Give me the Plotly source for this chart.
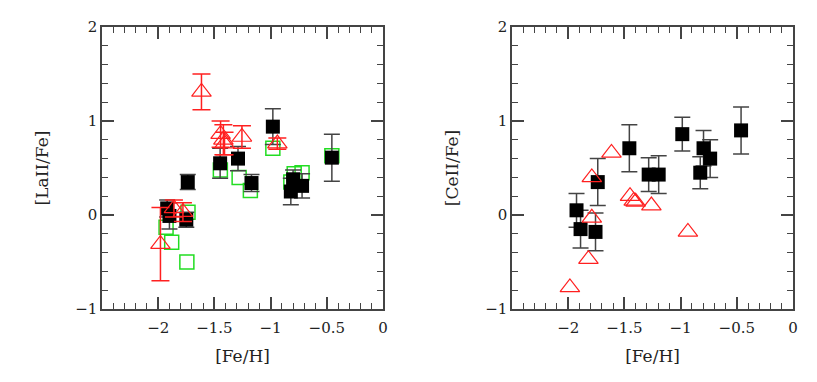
import plotly.graph_objects as go
from plotly.subplots import make_subplots

# left panel: [LaII/Fe]
la_sq_x = [-1.92, -1.90, -1.75, -1.737, -1.449, -1.29, -1.17, -0.98, -0.82, -0.80, -0.72, -0.455]
la_sq_y = [0.07, -0.01, -0.05, 0.35, 0.55, 0.60, 0.34, 0.94, 0.25, 0.38, 0.31, 0.61]
la_sq_err = [0.09, 0.14, 0.08, 0.08, 0.16, 0.13, 0.09, 0.19, 0.14, 0.10, 0.13, 0.25]

la_tri_x = [-1.98, -1.86, -1.78, -1.615, -1.445, -1.42, -1.41, -1.255, -0.94]
la_tri_y = [-0.31, 0.07, 0.03, 1.31, 0.86, 0.80, 0.76, 0.83, 0.76]
la_tri_err = [0.39, 0.09, 0.10, 0.19, 0.14, 0.16, 0.12, 0.12, 0.06]

la_grn_x = [-1.93, -1.88, -1.745, -1.735, -1.447, -1.28, -1.18, -0.98, -0.82, -0.79, -0.72, -0.455]
la_grn_y = [-0.13, -0.29, -0.50, 0.03, 0.48, 0.40, 0.26, 0.71, 0.35, 0.44, 0.45, 0.63]

# right panel: [CeII/Fe]
ce_sq_x = [-1.926, -1.89, -1.757, -1.737, -1.456, -1.284, -1.195, -0.985, -0.825, -0.796, -0.737, -0.462]
ce_sq_y = [0.05, -0.15, -0.18, 0.35, 0.71, 0.43, 0.43, 0.86, 0.45, 0.71, 0.60, 0.90]
ce_sq_err = [0.18, 0.20, 0.20, 0.25, 0.25, 0.18, 0.20, 0.18, 0.17, 0.19, 0.20, 0.25]

ce_tri_x = [-1.985, -1.82, -1.79, -1.79, -1.615, -1.45, -1.417, -1.40, -1.26, -0.935]
ce_tri_y = [-0.77, -0.47, -0.03, 0.40, 0.66, 0.20, 0.15, 0.14, 0.10, -0.18]

FONT = "DejaVu Serif"
FRAME = "#444444"
TXT = "#222222"

fig = make_subplots(rows=1, cols=2)

def err(vals, color, w):
    return dict(type="data", array=vals, visible=True, color=color, thickness=1.5, width=w)

# left
fig.add_trace(go.Scatter(x=la_grn_x, y=la_grn_y, mode="markers",
                         marker=dict(symbol="square-open", size=14, color="#22dd22", line=dict(width=1.5))),
              row=1, col=1)
fig.add_trace(go.Scatter(x=la_sq_x, y=la_sq_y, mode="markers",
                         error_y=err(la_sq_err, FRAME, 8),
                         marker=dict(symbol="square", size=14, color="black")),
              row=1, col=1)
fig.add_trace(go.Scatter(x=la_tri_x, y=la_tri_y, mode="markers",
                         error_y=err(la_tri_err, "#ff2020", 9),
                         marker=dict(symbol="triangle-up-open", size=17, color="#ff2020", line=dict(width=1.2))),
              row=1, col=1)

# right
fig.add_trace(go.Scatter(x=ce_sq_x, y=ce_sq_y, mode="markers",
                         error_y=err(ce_sq_err, FRAME, 8),
                         marker=dict(symbol="square", size=14, color="black")),
              row=1, col=2)
fig.add_trace(go.Scatter(x=ce_tri_x, y=ce_tri_y, mode="markers",
                         marker=dict(symbol="triangle-up-open", size=17, color="#ff2020", line=dict(width=1.2))),
              row=1, col=2)

# page body adds an 8px margin, so the figure is made smaller and shifted
OFF = 8
W, H = 817 - 2 * OFF, 382 - 2 * OFF
ML, MT = 102 - OFF, 27 - OFF
MR = W - (793 - OFF)
MB = H - (309 - OFF)
PW = W - ML - MR

xaxis_common = dict(range=[-2.5, 0], tickvals=[-2, -1.5, -1, -0.5, 0],
                    ticktext=["\u22122", "\u22121.5", "\u22121", "\u22120.5", "0"],
                    ticks="inside", ticklen=12, tickwidth=1.5, tickcolor=FRAME,
                    minor=dict(dtick=0.1, ticks="inside", ticklen=6, tickwidth=1.2, tickcolor=FRAME),
                    showline=True, linecolor=FRAME, linewidth=1.5, mirror="allticks",
                    showgrid=False, zeroline=False, automargin=False, ticklabelstandoff=4,
                    tickfont=dict(family=FONT, size=15, color=TXT),
                    title=dict(text="[Fe/H]", font=dict(family=FONT, size=17, color=TXT), standoff=14))
yaxis_common = dict(range=[-1, 2], tickvals=[-1, 0, 1, 2],
                    ticktext=["\u22121", "0", "1", "2"],
                    ticks="inside", ticklen=12, tickwidth=1.5, tickcolor=FRAME,
                    minor=dict(dtick=0.2, ticks="inside", ticklen=6, tickwidth=1.2, tickcolor=FRAME),
                    showline=True, linecolor=FRAME, linewidth=1.5, mirror="allticks",
                    showgrid=False, zeroline=False, automargin=False,
                    tickfont=dict(family=FONT, size=15, color=TXT))

fig.update_xaxes(**xaxis_common)
fig.update_yaxes(**yaxis_common)
fig.update_layout(
    xaxis=dict(domain=[0, (383 - 102) / PW]),
    xaxis2=dict(domain=[(512 - 102) / PW, 1]),
    yaxis=dict(domain=[0, 1], title=dict(text="[LaII/Fe]", font=dict(family=FONT, size=17, color=TXT), standoff=22)),
    yaxis2=dict(domain=[0, 1], title=dict(text="[CeII/Fe]", font=dict(family=FONT, size=17, color=TXT), standoff=22)),
    width=W, height=H, showlegend=False,
    margin=dict(l=ML, r=MR, t=MT, b=MB),
    plot_bgcolor="white", paper_bgcolor="white",
)

fig.write_html("out.html")
